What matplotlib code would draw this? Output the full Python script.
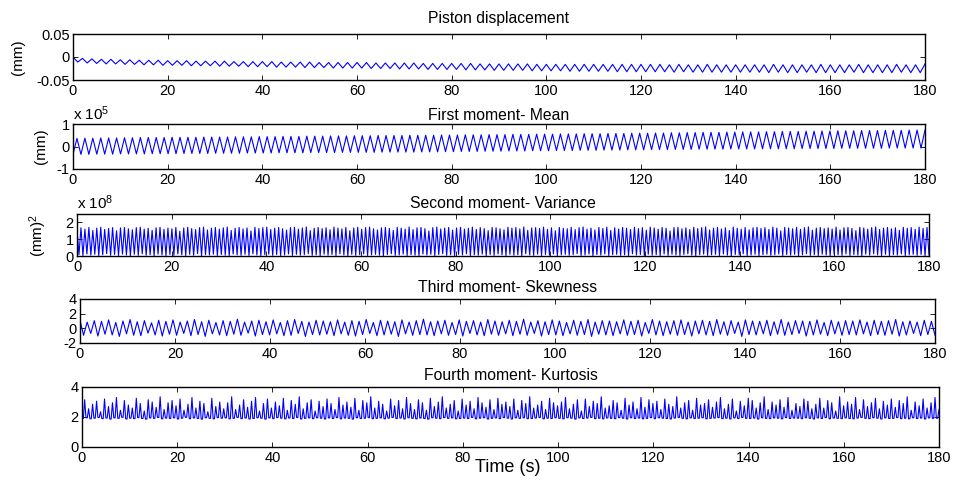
import numpy as np
import matplotlib
matplotlib.use("Agg")
import matplotlib.pyplot as plt

plt.rcParams['font.family'] = ['Liberation Sans', 'DejaVu Sans']
plt.rcParams['font.size'] = 10.5
plt.rcParams['mathtext.fontset'] = 'custom'
plt.rcParams['mathtext.rm'] = 'Liberation Sans'
plt.rcParams['mathtext.it'] = 'Liberation Sans:italic'

# ---- data ----
# piston displacement (micrometres), peaks and troughs of each cycle
disp_start = [0]
disp_troughs = [-11, -13, -14, -15, -15, -16, -16, -17, -17, -18,
                -18, -18, -19, -19, -19, -20, -20, -20, -21, -21,
                -21, -22, -22, -22, -23, -23, -23, -24, -24, -24,
                -24, -25, -25, -25, -26, -26, -26, -27, -27, -27,
                -27, -28, -28, -28, -29, -29, -29, -29, -30, -30,
                -30, -30, -31, -31, -31, -31, -31, -32, -32, -32,
                -32, -32, -32, -33, -32, -33, -33, -33, -33, -33,
                -33, -33, -33, -34, -33, -34, -34, -33, -34, -34,
                -34, -34, -33, -34, -34, -34, -34, -33, -34, -34]
disp_peaks = [-3, -4, -5, -5, -6, -6, -7, -7, -7, -8,
              -8, -8, -9, -9, -9, -9, -10, -10, -10, -10,
              -10, -11, -11, -11, -11, -12, -12, -12, -12, -12,
              -12, -13, -13, -13, -13, -13, -14, -14, -14, -14,
              -14, -14, -15, -15, -15, -15, -15, -15, -16, -16,
              -16, -16, -16, -16, -16, -16, -16, -16, -16, -16,
              -16, -16, -17, -16, -17, -17, -16, -17, -17, -17,
              -17, -17, -17, -16, -17, -17, -17, -17, -16, -17,
              -17, -17, -16, -17, -17, -17, -16, -17, -17, -15]

# first moment (x 10^5 mm)
mean_troughs = [-.35, -.35, -.35, -.34, -.34, -.34, -.33, -.33, -.33,
                -.33, -.32, -.32, -.32, -.32, -.31, -.31, -.31, -.31,
                -.30, -.30, -.30, -.30, -.29, -.29, -.29, -.29, -.28,
                -.28, -.28, -.28, -.27, -.27, -.27, -.27, -.26, -.26,
                -.26, -.26, -.26, -.25, -.25, -.25, -.25, -.25, -.24,
                -.24, -.24, -.23, -.23, -.22, -.22, -.22, -.21, -.21,
                -.21, -.20, -.20, -.20, -.19, -.19, -.19, -.18, -.18,
                -.18, -.17, -.17, -.17, -.16, -.16, -.16, -.15, -.15,
                -.15, -.14, -.14, -.14, -.13, -.13, -.13, -.12, -.12,
                -.12, -.12, -.11, -.11, -.11, -.11, -.10, -.10, -.10,
                -.10, -.10, -.09, -.09, -.09, -.09, -.09, -.08, -.08,
                -.08, -.08, -.08, -.08, -.07, -.07, -.07, -.07, -.07]
mean_peaks = [.36, .37, .37, .38, .38, .38, .39, .39, .40,
              .40, .40, .40, .41, .41, .41, .41, .42, .42,
              .42, .42, .43, .43, .43, .44, .44, .44, .45,
              .45, .45, .46, .46, .46, .47, .47, .47, .48,
              .48, .48, .49, .49, .49, .49, .50, .50, .50,
              .50, .51, .51, .51, .52, .52, .52, .53, .53,
              .53, .54, .54, .54, .55, .55, .55, .56, .56,
              .56, .57, .57, .57, .58, .58, .58, .59, .59,
              .59, .60, .60, .61, .61, .62, .62, .63, .63,
              .63, .64, .64, .65, .65, .65, .66, .66, .67,
              .67, .67, .68, .68, .69, .69, .70, .70, .70,
              .71, .71, .71, .72, .72, .72, .73, .73, .73]

# second moment (x 10^8 mm^2)
var_peaks = [1.55, 1.68, 1.60, 1.70, 1.52, 1.66, 1.71, 1.58, 1.64, 1.69, 1.50, 1.67,
             1.70, 1.62, 1.56, 1.69, 1.72, 1.60, 1.65, 1.53, 1.68, 1.71, 1.59, 1.66,
             1.62, 1.70, 1.48, 1.67, 1.71, 1.63, 1.57, 1.69, 1.72, 1.55, 1.66, 1.70,
             1.60, 1.68, 1.73, 1.52, 1.65, 1.70, 1.61, 1.67, 1.49, 1.71, 1.64, 1.69,
             1.72, 1.58, 1.66, 1.70, 1.62, 1.54, 1.69, 1.71, 1.60, 1.67, 1.73, 1.51,
             1.65, 1.70, 1.63, 1.68, 1.56, 1.72, 1.66, 1.61, 1.70, 1.50, 1.67, 1.71,
             1.59, 1.69, 1.72, 1.62, 1.55, 1.68, 1.70, 1.64, 1.52, 1.71, 1.66, 1.60,
             1.73, 1.57, 1.68, 1.70, 1.63, 1.49, 1.69, 1.72, 1.61, 1.66, 1.70, 1.54,
             1.67, 1.71, 1.60, 1.65, 1.72, 1.58, 1.69, 1.63, 1.51, 1.70, 1.68, 1.62,
             1.56, 1.71, 1.66, 1.70, 1.61, 1.73, 1.53, 1.67, 1.69, 1.64, 1.72, 1.59,
             1.68, 1.50, 1.70, 1.65, 1.62, 1.71, 1.57, 1.69, 1.73, 1.60, 1.66, 1.55,
             1.70, 1.64, 1.72, 1.52, 1.68, 1.61, 1.70, 1.66, 1.58, 1.71, 1.63, 1.69,
             1.54, 1.72, 1.67, 1.60, 1.70, 1.65, 1.49, 1.69, 1.71, 1.62, 1.68, 1.57,
             1.71, 1.63, 1.69, 1.73, 1.55, 1.66, 1.70, 1.61, 1.68, 1.52, 1.72, 1.65,
             1.60, 1.70, 1.56, 1.68, 1.71, 1.64, 1.69, 1.58, 1.72, 1.66, 1.50, 1.70,
             1.67, 1.62, 1.71, 1.59, 1.69, 1.73, 1.54, 1.66, 1.70, 1.63, 1.68, 1.61,
             1.72, 1.55, 1.68, 1.70, 1.64, 1.51, 1.71, 1.67, 1.60, 1.69, 1.73, 1.58,
             1.66, 1.70, 1.62, 1.68, 1.53, 1.71, 1.65, 1.69, 1.59, 1.72, 1.64, 1.70]
var_troughs = [0.08, 0.03, 0.12, 0.05, 0.10, 0.02, 0.07, 0.14, 0.04, 0.09, 0.03, 0.11,
               0.06, 0.02, 0.10, 0.04, 0.13, 0.05, 0.08, 0.03, 0.11, 0.06, 0.02, 0.09,
               0.04, 0.12, 0.07, 0.03, 0.10, 0.05, 0.14, 0.02, 0.08, 0.06, 0.11, 0.03,
               0.09, 0.05, 0.02, 0.12, 0.07, 0.04, 0.10, 0.03, 0.13, 0.06, 0.02, 0.08,
               0.11, 0.04, 0.09, 0.02, 0.06, 0.12, 0.03, 0.10, 0.05, 0.08, 0.14, 0.04,
               0.07, 0.02, 0.11, 0.05, 0.09, 0.03, 0.13, 0.06, 0.02, 0.10, 0.04, 0.08,
               0.12, 0.03, 0.07, 0.10, 0.05, 0.02, 0.09, 0.13, 0.04, 0.06, 0.11, 0.03,
               0.08, 0.05, 0.02, 0.12, 0.06, 0.10, 0.03, 0.09, 0.14, 0.04, 0.07, 0.02,
               0.10, 0.06, 0.13, 0.03, 0.08, 0.05, 0.11, 0.02, 0.09, 0.04, 0.12, 0.07,
               0.03, 0.10, 0.05, 0.08, 0.02, 0.13, 0.06, 0.04, 0.11, 0.03, 0.09, 0.05,
               0.12, 0.02, 0.07, 0.10, 0.04, 0.08, 0.14, 0.03, 0.06, 0.11, 0.02, 0.09,
               0.05, 0.12, 0.03, 0.08, 0.10, 0.04, 0.07, 0.02, 0.13, 0.06, 0.09, 0.03,
               0.11, 0.05, 0.08, 0.02, 0.12, 0.04, 0.10, 0.06, 0.03, 0.09, 0.13, 0.05,
               0.02, 0.08, 0.11, 0.04, 0.07, 0.10, 0.03, 0.12, 0.05, 0.02, 0.09, 0.06,
               0.13, 0.03, 0.06, 0.10, 0.02, 0.08, 0.11, 0.04, 0.07, 0.12, 0.03, 0.09,
               0.05, 0.10, 0.02, 0.07, 0.13, 0.04, 0.08, 0.03, 0.11, 0.06, 0.02, 0.10,
               0.08, 0.04, 0.12, 0.03, 0.09, 0.06, 0.02, 0.11, 0.05, 0.13, 0.07, 0.03,
               0.10, 0.02, 0.08, 0.05, 0.12, 0.03, 0.07, 0.10, 0.04, 0.09, 0.02, 0.06]

# third moment
skew_peaks = [1.10, 0.85, 1.05, 0.95, 1.15, 0.80, 1.00, 1.20, 0.90, 1.05, 0.75, 1.10,
              0.95, 1.15, 0.85, 1.00, 1.20, 0.90, 1.10, 0.80, 1.05, 0.95, 1.25, 0.85,
              1.00, 1.10, 0.90, 1.15, 0.80, 1.05, 1.20, 0.95, 0.85, 1.10, 1.00, 0.90,
              1.15, 0.85, 1.05, 0.95, 1.20, 0.80, 1.10, 1.00, 0.90, 1.15, 0.85, 1.05,
              1.25, 0.90, 1.00, 1.10, 0.80, 1.15, 0.95, 1.05, 0.85, 1.20, 1.00, 0.90,
              1.10, 0.95, 1.25, 0.85, 1.05, 0.90, 1.15, 1.00, 0.80, 1.10, 0.95, 1.20,
              0.85, 1.05, 1.00, 0.90, 1.15, 0.95, 1.10, 0.80, 1.20, 1.00, 0.90, 1.05,
              1.15, 0.85, 1.00, 1.10, 0.95, 1.20, 0.90, 1.05, 0.85, 1.15, 1.00, 0.95,
              1.10, 0.90, 1.20, 0.85, 1.05, 1.00, 0.95, 1.15, 0.80, 1.10, 0.90, 1.05,
              1.00, 1.15, 0.85, 1.10, 0.95, 1.05, 1.20, 0.90, 1.00, 0.85, 1.10, 0.95]
skew_troughs = [-0.95, -0.70, -1.05, -0.80, -0.90, -1.10, -0.75, -0.95, -1.00, -0.65, -0.90, -1.05,
                -0.80, -0.95, -0.70, -1.00, -0.85, -1.10, -0.75, -0.90, -1.00, -0.80, -0.95, -0.65,
                -1.05, -0.85, -0.90, -0.75, -1.00, -0.95, -0.70, -1.10, -0.85, -0.90, -0.80, -1.00,
                -0.75, -0.95, -1.05, -0.85, -0.70, -1.00, -0.90, -0.80, -1.10, -0.75, -0.95, -0.85,
                -0.90, -1.00, -0.75, -0.95, -0.85, -1.05, -0.70, -0.90, -1.00, -0.80, -0.95, -0.75,
                -1.00, -0.80, -0.95, -0.70, -1.05, -0.85, -0.90, -1.00, -0.75, -0.95, -0.85, -1.10,
                -0.80, -0.90, -1.00, -0.75, -0.95, -0.85, -1.05, -0.70, -0.90, -1.00, -0.80, -0.95,
                -0.85, -1.05, -0.75, -0.90, -1.00, -0.80, -0.95, -0.70, -1.10, -0.85, -0.90, -0.75,
                -1.00, -0.80, -0.95, -0.85, -0.70, -1.05, -0.90, -0.80, -1.00, -0.75, -0.95, -0.85,
                -0.90, -0.75, -1.00, -0.85, -0.95, -0.80, -1.05, -0.90, -0.70, -1.00, -0.85, -0.95]

# fourth moment: floor level and spike height of each cycle
kurt_base = [1.90, 1.95, 1.88, 1.92, 1.97, 1.89, 1.93, 1.86, 1.94, 1.91, 1.98, 1.87,
             1.92, 1.89, 1.96, 1.90, 1.86, 1.94, 1.91, 1.97, 1.88, 1.93, 1.90, 1.95,
             1.87, 1.92, 1.98, 1.89, 1.94, 1.90, 1.86, 1.95, 1.91, 1.88, 1.96, 1.92,
             1.94, 1.88, 1.91, 1.97, 1.89, 1.93, 1.87, 1.90, 1.95, 1.92, 1.86, 1.94,
             1.89, 1.96, 1.92, 1.88, 1.93, 1.90, 1.97, 1.87, 1.91, 1.94, 1.89, 1.95,
             1.92, 1.87, 1.94, 1.90, 1.96, 1.88, 1.93, 1.91, 1.86, 1.95, 1.90, 1.92,
             1.96, 1.89, 1.91, 1.94, 1.88, 1.92, 1.97, 1.90, 1.93, 1.87, 1.95, 1.91,
             1.88, 1.93, 1.90, 1.86, 1.95, 1.92, 1.89, 1.96, 1.91, 1.94, 1.88, 1.90,
             1.93, 1.90, 1.97, 1.88, 1.92, 1.95, 1.87, 1.91, 1.94, 1.89, 1.96, 1.92,
             1.87, 1.94, 1.91, 1.95, 1.89, 1.90, 1.93, 1.97, 1.88, 1.92, 1.90, 1.95,
             1.91, 1.88, 1.95, 1.92, 1.86, 1.94, 1.90, 1.93, 1.97, 1.89, 1.92, 1.88,
             1.94, 1.91, 1.89, 1.96, 1.92, 1.87, 1.95, 1.90, 1.93, 1.88, 1.91, 1.96,
             1.89, 1.95, 1.92, 1.90, 1.87, 1.93, 1.97, 1.91, 1.88, 1.94, 1.90, 1.92,
             1.95, 1.88, 1.91, 1.93, 1.96, 1.89, 1.92, 1.87, 1.94, 1.90, 1.97, 1.91,
             1.90, 1.93, 1.87, 1.95, 1.91, 1.89, 1.94, 1.92, 1.88, 1.96, 1.90, 1.93,
             1.92, 1.89, 1.95, 1.91, 1.87, 1.94, 1.90, 1.96, 1.88, 1.93, 1.91, 1.89,
             1.94, 1.90, 1.88, 1.93, 1.97, 1.91, 1.89, 1.95, 1.92, 1.87, 1.94, 1.90,
             1.91, 1.96, 1.89, 1.92, 1.88, 1.95, 1.90, 1.93, 1.87, 1.94, 1.91, 1.92]
kurt_spikes = [3.15, 2.55, 2.85, 3.05, 2.35, 3.20, 2.70, 2.95, 3.30, 2.45, 3.10, 2.80,
               2.60, 3.25, 2.90, 2.40, 3.15, 3.00, 2.65, 3.35, 2.50, 2.95, 3.10, 2.75,
               3.20, 2.45, 2.85, 3.30, 2.60, 3.05, 2.90, 2.35, 3.25, 2.70, 3.00, 2.55,
               2.95, 3.35, 2.50, 2.80, 3.15, 2.65, 3.05, 3.30, 2.40, 2.90, 3.20, 2.60,
               3.00, 2.75, 3.25, 2.45, 3.10, 2.85, 3.35, 2.55, 2.95, 3.15, 2.40, 3.05,
               2.70, 3.20, 2.90, 2.50, 3.30, 2.80, 3.00, 2.65, 3.25, 2.45, 3.10, 2.95,
               3.35, 2.60, 3.05, 2.85, 2.40, 3.20, 2.75, 3.10, 2.55, 3.30, 2.90, 2.50,
               3.15, 2.95, 2.45, 3.25, 2.70, 3.00, 3.35, 2.60, 2.85, 3.10, 2.40, 3.20,
               2.80, 3.05, 2.55, 3.30, 2.95, 2.65, 3.15, 2.50, 3.25, 2.85, 3.00, 2.70,
               3.20, 2.45, 3.10, 2.90, 3.35, 2.60, 2.80, 3.05, 2.50, 3.25, 2.95, 2.75,
               3.00, 3.30, 2.55, 2.85, 3.15, 2.40, 3.20, 2.70, 3.05, 2.90, 3.35, 2.60,
               2.75, 3.10, 2.95, 2.45, 3.25, 2.80, 3.00, 2.55, 3.30, 2.65, 3.15, 2.90,
               3.05, 2.50, 3.20, 2.85, 2.70, 3.35, 2.60, 2.95, 3.10, 2.45, 3.25, 2.80,
               2.90, 3.15, 2.65, 3.00, 3.30, 2.55, 2.85, 3.20, 2.40, 3.05, 2.75, 3.25,
               3.10, 2.60, 2.95, 3.35, 2.50, 3.00, 2.80, 3.15, 2.65, 3.30, 2.45, 2.90,
               2.70, 3.20, 3.05, 2.55, 2.85, 3.25, 2.60, 3.10, 2.95, 2.40, 3.35, 2.75,
               3.00, 2.85, 3.30, 2.50, 3.15, 2.70, 2.95, 3.25, 2.55, 3.05, 2.80, 3.20,
               2.65, 3.10, 2.90, 3.35, 2.45, 3.00, 2.75, 3.20, 2.60, 2.95, 3.30, 2.50]

titles = ["Piston displacement", "First moment- Mean", "Second moment- Variance",
          "Third moment- Skewness", "Fourth moment- Kurtosis"]
ylims = [(-0.05, 0.05), (-1, 1), (0, 2.5), (-2, 4), (0, 4)]
yticks = [[-0.05, 0, 0.05], [-1, 0, 1], [0, 1, 2], [-2, 0, 2, 4], [0, 2, 4]]
ytick_labels = [["-0.05", "0", "0.05"], ["-1", "0", "1"], ["0", "1", "2"],
                ["-2", "0", "2", "4"], ["0", "2", "4"]]
xticks = list(range(0, 181, 20))


def interleave(a, b):
    return np.column_stack((a, b)).ravel()


disp = np.concatenate((disp_start, interleave(disp_troughs, disp_peaks))) / 1000.0
mean = interleave(mean_troughs, mean_peaks)
var = interleave(var_peaks, var_troughs)
skew = interleave(skew_peaks, skew_troughs)
kurt = np.column_stack((kurt_base, kurt_base, kurt_spikes)).ravel()
series = [disp, mean, var, skew, kurt]

W, H = 954, 483
# axes boxes in pixels: left, right, top, bottom
boxes = [(73, 925, 34, 80), (73, 925, 124, 169), (77, 929, 214, 256),
         (80, 935, 299, 343), (82, 939, 387, 447)]
title_pads = [8.1, 3.1, 4.3, 5.4, 5.3]

fig = plt.figure(figsize=(W / 100, H / 100), dpi=100)
axes = []
for i, (l, r, t, b) in enumerate(boxes):
    ax = fig.add_axes([l / W, 1 - b / H, (r - l) / W, (b - t) / H])
    y = series[i]
    t_axis = np.linspace(0, 180, len(y))
    ax.plot(t_axis, y, color='#0000ff', linewidth=0.8)
    ax.set_xlim(0, 180)
    ax.set_ylim(*ylims[i])
    ax.set_xticks(xticks)
    ax.set_xticklabels([str(v) for v in xticks])
    ax.set_yticks(yticks[i])
    ax.set_yticklabels(ytick_labels[i])
    ax.tick_params(direction='in', top=True, right=True, length=3.5, width=0.6)
    ax.tick_params(axis='x', pad=3)
    ax.tick_params(axis='y', pad=2.5)
    for s in ax.spines.values():
        s.set_linewidth(1.0)
    ax.set_title(titles[i], pad=title_pads[i], fontsize=11.3)
    axes.append(ax)

axes[0].set_ylabel("(mm)", fontsize=11)
axes[0].yaxis.set_label_coords(-0.056, 0.5)
axes[1].set_ylabel("(mm)", fontsize=11)
axes[1].yaxis.set_label_coords(-0.029, 0.5)
axes[2].set_ylabel("(mm)$^2$", fontsize=11)
axes[2].yaxis.set_label_coords(-0.0325, 0.5)

axes[1].text(0.0, 1.08, "x 10$^5$", transform=axes[1].transAxes,
             ha='left', va='baseline', fontsize=11)
axes[2].text(0.0, 1.11, "x 10$^8$", transform=axes[2].transAxes,
             ha='left', va='baseline', fontsize=11)

axes[4].set_xlabel("Time (s)", fontsize=13)
axes[4].xaxis.set_label_coords(0.497, -0.2)

fig.savefig("out.png", dpi=100)
